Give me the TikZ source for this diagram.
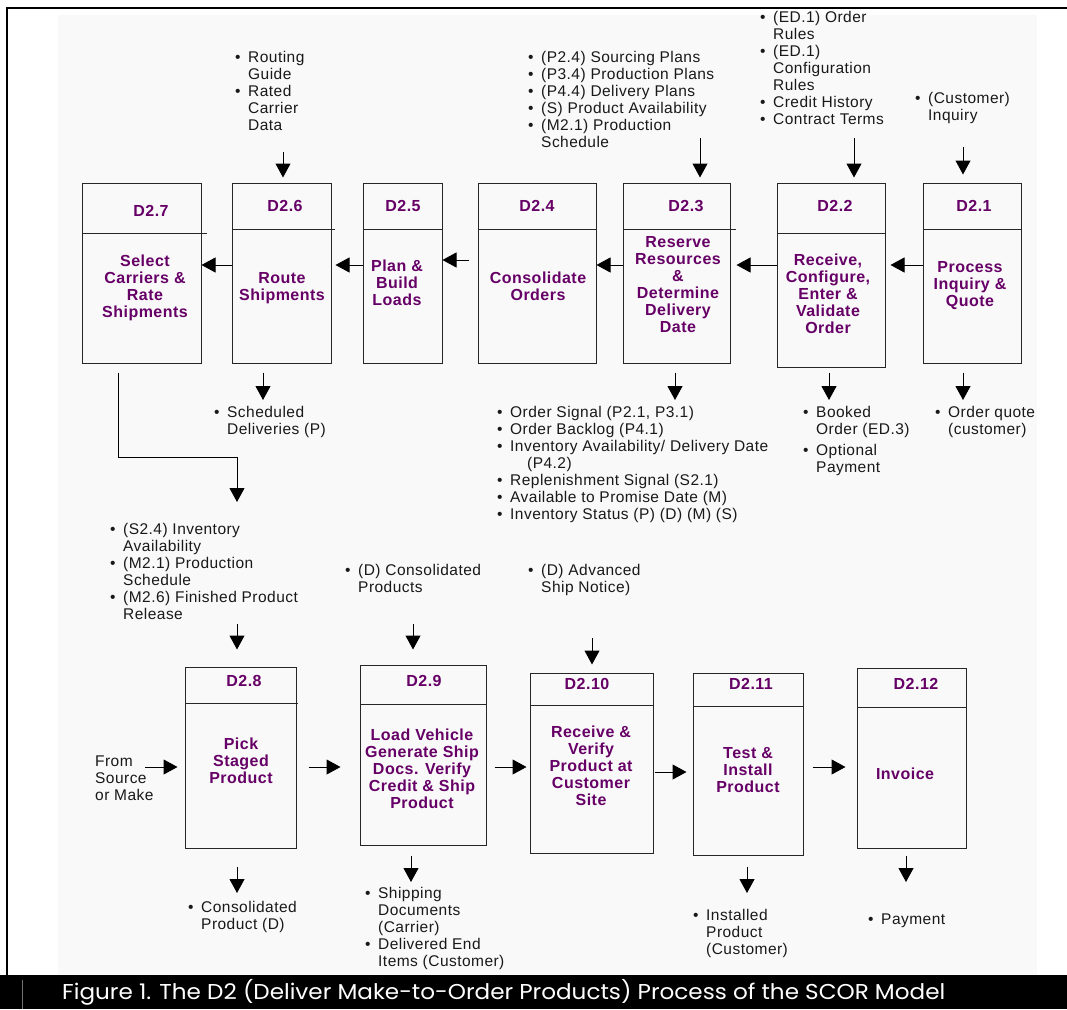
\documentclass[tikz,border=0pt]{standalone}
\usepackage{fontspec}
\setmainfont{Liberation Sans}[LetterSpace=3]
\newfontfamily\capfont{Poppins}
\usepackage{graphicx}
\usepackage{xcolor}
\usepackage{tikz}
\usetikzlibrary{arrows.meta,fit}

\definecolor{plum}{RGB}{102,0,102}
\definecolor{paper}{RGB}{249,249,249}
\newcommand{\itm}{\makebox[13pt][l]{\textbullet}}
\newcommand{\cnt}{\hspace*{13pt}}

\begin{document}
\begin{tikzpicture}[x=1pt,y=-1pt,
    font=\fontsize{15.5}{17}\selectfont,
    box/.style={draw=black!85, line width=1pt, inner sep=0pt},
    ttl/.style={font=\fontsize{16}{17}\selectfont\bfseries, text=plum},
    act/.style={font=\fontsize{16}{17}\selectfont\bfseries, text=plum, align=center, inner sep=0pt},
    note/.style={anchor=north west, align=left, inner sep=0pt, text=black!90},
    flow/.style={-{Triangle[width=15pt,length=14pt]}, line width=1pt}]
  % page, frame and caption bar
  \useasboundingbox (0,0) rectangle (1067,1009);
  \fill [white] (0,0) rectangle (1067,1009);
  \fill [paper] (58,15) rectangle (1037,975);
  \draw [line width=2.5pt] (7,975) -- (7,8) -- (1067,8);
  \fill [black] (0,975) rectangle (1067,1009);
  \draw [black!55, line width=1pt] (22,980) -- (22,1009);
  \node (cap) at (62,999) [anchor=base west, inner sep=0pt, text=white]
    {\resizebox{883pt}{\height}{\capfont\fontsize{21.5}{22}\selectfont Figure 1. The D2 (Deliver Make-to-Order Products) Process of the SCOR Model}};

  % process boxes: name/left/top/right/bottom/divider/divider end
  \foreach \n/\xa/\ya/\xb/\yb/\yd/\xe in {d27/82/183/201/363/233/207, d26/232/183/331/363/229/335,
      d25/363/183/442/363/229/442, d24/478/183/596/363/229/597, d23/623/183/730/363/229/736,
      d22/777/183/885/367/233/885, d21/923/183/1021/363/229/1021,
      d28/185/667/296/848/703/298, d29/360/665/486/845/704/486, d210/530/673/653/853/705/653,
      d211/693/673/803/855/706/803, d212/857/668/966/848/707/966}
  {
    \node (\n) [box, fit={(\xa,\ya) (\xb,\yb)}] {};
    \draw [black!85, line width=1pt] (\xa,\yd) -- (\xe,\yd);
  }

  \node (t27) at (151,211) [ttl] {D2.7};
  \node (t26) at (285,206) [ttl] {D2.6};
  \node (t25) at (403,206) [ttl] {D2.5};
  \node (t24) at (537,206) [ttl] {D2.4};
  \node (t23) at (686,206) [ttl] {D2.3};
  \node (t22) at (835,206) [ttl] {D2.2};
  \node (t21) at (974,206) [ttl] {D2.1};
  \node (t28) at (244,681) [ttl] {D2.8};
  \node (t29) at (424,681) [ttl] {D2.9};
  \node (t210) at (587,684) [ttl] {D2.10};
  \node (t211) at (751,684) [ttl] {D2.11};
  \node (t212) at (916,684) [ttl] {D2.12};

  \node (b27) at (145,288) [act] {Select\\Carriers \&\\Rate\\Shipments};
  \node (b26) at (282,288) [act] {Route\\Shipments};
  \node (b25) at (397,283) [act] {Plan \&\\Build\\Loads};
  \node (b24) at (538,286) [act] {Consolidate\\Orders};
  \node (b23) at (678,285) [act] {Reserve\\Resources\\\&\\Determine\\Delivery\\Date};
  \node (b22) at (828,294) [act] {Receive,\\Configure,\\Enter \&\\Validate\\Order};
  \node (b21) at (970,286) [act] {Process\\Inquiry \&\\Quote};
  \node (b28) at (241,761) [act] {Pick\\Staged\\Product};
  \node (b29) at (422,769) [act] {Load Vehicle\\Generate Ship\\Docs. Verify\\Credit \& Ship\\Product};
  \node (b210) at (591,766) [act] {Receive \&\\Verify\\Product at\\Customer\\Site};
  \node (b211) at (748,770) [act] {Test \&\\Install\\Product};
  \node (b212) at (905,774) [act] {Invoice};

  % inputs and outputs
  \node (in26) at (235,51) [note] {\itm Routing\\ \cnt Guide\\ \itm Rated\\ \cnt Carrier\\ \cnt Data};
  \node (in23) at (528,51) [note] {\itm (P2.4) Sourcing Plans\\ \itm (P3.4) Production Plans\\
    \itm (P4.4) Delivery Plans\\ \itm (S) Product Availability\\ \itm (M2.1) Production\\ \cnt Schedule};
  \node (in22) at (760,11) [note] {\itm (ED.1) Order\\ \cnt Rules\\ \itm (ED.1)\\ \cnt Configuration\\
    \cnt Rules\\ \itm Credit History\\ \itm Contract Terms};
  \node (in21) at (915,92) [note] {\itm (Customer)\\ \cnt Inquiry};
  \node (out26) at (214,406) [note] {\itm Scheduled\\ \cnt Deliveries (P)};
  \node (out23) at (497,406) [note] {\itm Order Signal (P2.1, P3.1)\\ \itm Order Backlog (P4.1)\\
    \itm Inventory Availability/ Delivery Date\\ \hspace*{30pt}(P4.2)\\ \itm Replenishment Signal (S2.1)\\
    \itm Available to Promise Date (M)\\ \itm Inventory Status (P) (D) (M) (S)};
  \node (out22) at (803,406) [note] {\itm Booked\\ \cnt Order (ED.3)\\[4pt] \itm Optional\\ \cnt Payment};
  \node (out21) at (935,406) [note] {\itm Order quote\\ \cnt (customer)};
  \node (in28) at (110,523) [note] {\itm (S2.4) Inventory\\ \cnt Availability\\ \itm (M2.1) Production\\
    \cnt Schedule\\ \itm (M2.6) Finished Product\\ \cnt Release};
  \node (in29) at (345,564) [note] {\itm (D) Consolidated\\ \cnt Products};
  \node (in210) at (528,564) [note] {\itm (D) Advanced\\ \cnt Ship Notice)};
  \node (src) at (95,756) [note] {From\\Source\\or Make};
  \node (out28) at (188,901) [note] {\itm Consolidated\\ \cnt Product (D)};
  \node (out29) at (365,887) [note] {\itm Shipping\\ \cnt Documents\\ \cnt (Carrier)\\ \itm Delivered End\\ \cnt Items (Customer)};
  \node (out211) at (693,909) [note] {\itm Installed\\ \cnt Product\\ \cnt (Customer)};
  \node (out212) at (868,914) [note] {\itm Payment};

  % arrow ends
  \coordinate (i26) at (283,152);
  \coordinate (i23) at (700,138);
  \coordinate (i22) at (854,138);
  \coordinate (i21) at (963,147);
  \coordinate (i28) at (237,624);
  \coordinate (i29) at (413,624);
  \coordinate (i210) at (592,638);
  \coordinate (o26) at (263,400);
  \coordinate (o23) at (675,400);
  \coordinate (o22) at (829,400);
  \coordinate (o21) at (963,400);
  \coordinate (o28) at (237,893);
  \coordinate (o29) at (411,882);
  \coordinate (o211) at (747,893);
  \coordinate (o212) at (906,882);
  \coordinate (elb) at (118,457);
  \coordinate (o27) at (237,502);
  \coordinate (srcout) at (145,767);

  \foreach \c/\n/\s in {i26/d26/5, i23/d23/5, i22/d22/5, i21/d21/8, i28/d28/17, i29/d29/15, i210/d210/8}
    \draw [flow, shorten >=\s pt] (\c) -- (\c |- \n.north);
  \foreach \n/\c/\s in {d26/o26/9, d23/o23/9, d22/o22/5, d21/o21/9, d28/o28/18, d29/o29/10, d211/o211/11, d212/o212/7}
    \draw [flow, shorten <=\s pt] (\c |- \n.south) -- (\c);
  \draw [flow, shorten <=9pt] (elb |- d27.south) -- (elb) -| (o27);

  % flow between boxes
  \foreach \a/\b/\y/\s/\e in {d21/d22/265/0/5, d22/d23/265/0/6, d23/d24/265/0/0, d24/d25/260/9/0, d25/d26/265/0/4, d26/d27/265/0/0}
    \draw [flow, shorten <=\s pt, shorten >=\e pt] (\a.west |- 0,\y) -- (\b.east |- 0,\y);
  \foreach \a/\b/\y/\s/\e in {d28/d29/767/12/19, d29/d210/767/8/3, d210/d211/772/1/6, d211/d212/767/9/11}
    \draw [flow, shorten <=\s pt, shorten >=\e pt] (\a.east |- 0,\y) -- (\b.west |- 0,\y);
  \draw [flow, shorten >=7pt] (srcout) -- (srcout -| d28.west);
\end{tikzpicture}
\end{document}
